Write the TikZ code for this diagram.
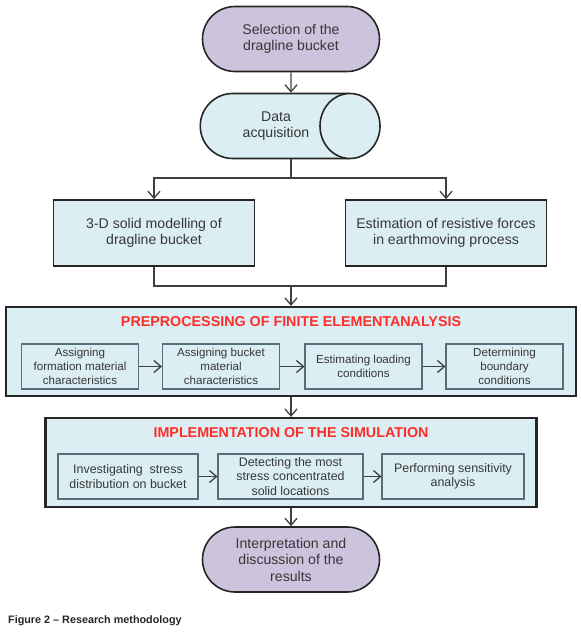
\documentclass[tikz,border=0pt]{standalone}
\usepackage{fontspec}
\setmainfont{Liberation Sans}
\usetikzlibrary{shapes.geometric,shapes.misc,arrows.meta}
\definecolor{lavender}{RGB}{204,195,220}
\definecolor{paleblue}{RGB}{219,238,244}
\definecolor{titlered}{RGB}{255,45,40}
\definecolor{textgray}{RGB}{55,55,55}
\definecolor{slate}{RGB}{85,110,122}

\begin{document}
\begin{tikzpicture}[x=1pt, y=-1pt,
  every node/.style={text=textgray, align=center, inner sep=0pt,
    font=\fontsize{14.1}{16.5}\selectfont},
  term/.style={rounded rectangle, draw=black!85, line width=1.6pt, fill=lavender,
    minimum width=177pt, minimum height=65pt},
  store/.style={rounded rectangle, rounded rectangle right arc=none, draw=black!85,
    line width=1.6pt, fill=paleblue, minimum width=148pt, minimum height=65pt},
  storeend/.style={ellipse, draw=black!85, line width=1.6pt, fill=paleblue,
    minimum width=60pt, minimum height=65pt},
  mainbox/.style={rectangle, draw=black!85, line width=1.6pt, fill=paleblue,
    minimum width=201pt, minimum height=66pt},
  stagebox/.style={rectangle, draw=black!85, line width=2.2pt, fill=paleblue},
  stagetitle/.style={text=titlered, font=\fontsize{14.3}{16}\selectfont\bfseries},
  subbox/.style={rectangle, draw=slate, line width=1.1pt, fill=paleblue,
    minimum height=45pt, font=\fontsize{11.6}{14}\selectfont},
  widesub/.style={subbox, font=\fontsize{12.4}{14.5}\selectfont},
  link/.style={draw=black!75, line width=1.3pt},
  arr/.style={link, -{Straight Barb[length=7pt, width=12pt]}}]

  \useasboundingbox (0,0) rectangle (580,636);

  \coordinate (split) at (291,178);
  \coordinate (merge) at (291,286);

  \node[term] (sel) at (291,39) {Selection of the\\dragline bucket};
  \node[store] (data) at (276,126) {Data\\acquisition};
  \node[storeend] (dataend) at (350,126) {};
  \node[mainbox] (mod) at (154,233) {3-D solid modelling of\\dragline bucket};
  \node[mainbox] (est) at (446,233) {Estimation of resistive forces\\in earthmoving process};

  \node[stagebox, minimum width=570pt, minimum height=89pt] (pre) at (291,351.5) {};
  \node[stagetitle] (pretitle) at (291,322) {PREPROCESSING OF FINITE ELEMENTANALYSIS};
  \node[subbox, minimum width=117pt] (a1) at (80,366.5) {Assigning\\formation material\\characteristics};
  \node[subbox, minimum width=117pt] (a2) at (221,366.5) {Assigning bucket\\material\\characteristics};
  \node[subbox, minimum width=117pt] (a3) at (363.5,366.5) {Estimating loading\\conditions};
  \node[subbox, minimum width=117pt] (a4) at (504.5,366.5) {Determining\\boundary\\conditions};

  \node[stagebox, minimum width=491pt, minimum height=89pt] (sim) at (291,462.5) {};
  \node[stagetitle] (simtitle) at (291,433) {IMPLEMENTATION OF THE SIMULATION};
  \node[widesub, minimum width=140pt] (b1) at (128,476.5) {Investigating~ stress\\distribution on bucket};
  \node[widesub, minimum width=145pt] (b2) at (290.5,476.5) {Detecting the most\\stress concentrated\\solid locations};
  \node[widesub, minimum width=142pt] (b3) at (453,476.5) {Performing sensitivity\\analysis};

  \node[term] (res) at (291,559.5) {Interpretation and\\discussion of the\\results};

  \node[anchor=west, text=black!85, font=\fontsize{10.8}{13}\selectfont\bfseries] (cap) at (8,621)
    {Figure 2 – Research methodology};

  \draw[arr] (sel) -- (sel.south |- data.north);
  \draw[link] (split |- data.south) -- (split);
  \draw[arr] (split) -| (mod.north);
  \draw[arr] (split) -| (est.north);
  \draw[link] (mod.south) |- (merge) -| (est.south);
  \draw[arr] (merge) -- (pre.north);
  \draw[arr] (a1) -- (a2);
  \draw[arr] (a2) -- (a3);
  \draw[arr] (a3) -- (a4);
  \draw[arr] (pre.south) -- (sim.north);
  \draw[arr] (b1) -- (b2);
  \draw[arr] (b2) -- (b3);
  \draw[arr] (sim.south) -- (res.north);
\end{tikzpicture}
\end{document}
